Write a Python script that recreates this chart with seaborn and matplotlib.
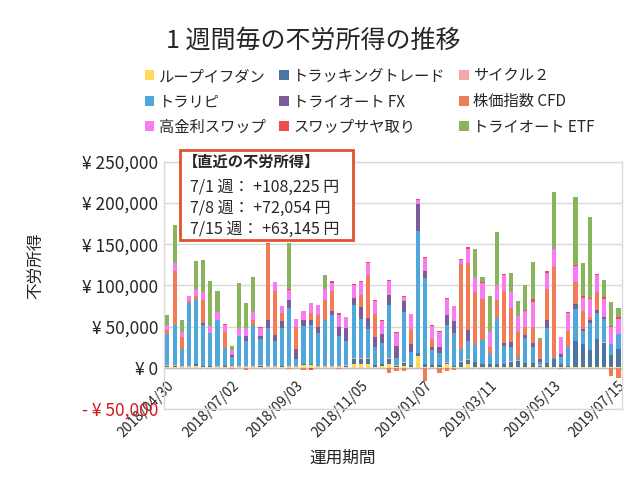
import numpy as np
import pandas as pd
import matplotlib
matplotlib.use("Agg")
import matplotlib.pyplot as plt
import seaborn as sns
from matplotlib.patches import Patch, Rectangle

# weekly categories (Mondays)
weeks = pd.date_range("2018-04-30", "2019-07-15", freq="7D").strftime("%Y/%m/%d").tolist()
tick_labels = ["2018/04/30", "2018/07/02", "2018/09/03", "2018/11/05",
               "2019/01/07", "2019/03/11", "2019/05/13", "2019/07/15"]

# weekly income per strategy (thousand yen)
loop = [1, 1.5, 0.5, 0.5, 2, 1, 1, 0.5, 1, 0.5, 0.5, 0.5, 0.5, 1, 0.5, 0.5,
        1, 0.5, 0.5, 3, 3, 0.5, 0.5, 0.5, 0.5, 1, 5, 5, 4, 1, 2, 5,
        1, 2, 1, 14, 1, 1, 1, 4, 0.5, 0.5, 4, 0.5, 0.5, 0.5, 0.5, 0.5,
        0.5, 0.5, 0.5, 0.5, 0.5, 0.5, 0.5, 0.5, 0.5, 0.5, 0.5, 0.5, 0.5, 0.5, 0.5, 0.5]
tracking = [1.5, 1, 1, 1, 2, 1, 1, 1, 1, 1, 1, 1, 1, 1.5, 1, 1,
            1, 1, 1, 1, 1, 1, 1, 1, 1, 1.5, 6, 6, 7, 2, 2, 6,
            1.5, 4, 2, 4, 3, 2, 2, 2, 1.5, 7, 6, 6, 4, 4, 4, 4,
            7, 8, 5, 5, 2, 5, 10, 4, 1.5, 32, 28, 21, 34, 30, 15, 22]
cycle2 = [1, 0.5, 0.5, 0.5, 1, 0.5, 0.5, 0.5, 0.5, 0.5, 0.5, 0.5, 0.5, 0.5, 0.5, 0.5,
          0.5, 0.5, 0.5, 0.5, 0.5, 0.5, 0.5, 0.5, 0.5, 0.5, 0.5, 0.5, 0.5, 0.5, 0.5, 0.5,
          0.5, 0.5, 0.5, 0.5, 0.5, 0.5, 0.5, 0.5, 0.5, 0.5, 0.5, 0.5, 0.5, 0.5, 0.5, 0.5,
          0.5, 0.5, 0.5, 0.5, 0.5, 0.5, 0.5, 0.5, 0.5, 0.5, 0.5, 0.5, 0.5, 0.5, 0.5, 0.5]
trarip = [38, 49, 21, 76, 78, 50, 40, 56, 21, 11, 36, 30, 50, 32, 46, 30,
          46, 70, 9, 46, 48, 40, 56, 62, 36, 30, 65, 48, 36, 22, 26, 65,
          9, 61, 16, 147, 105, 18, 14, 46, 40, 15, 22, 21, 29, 12, 55, 21,
          17, 4, 30, 19, 4, 42, 2, 8, 23, 38, 16, 32, 32, 28, 13, 18]
triauto_fx = [0, 0, 0, 0, 0, 2, 0, 0, 0, 3, 0, 6, 0, 4, 10, 8,
              8, 10, 12, 7, 5, 8, 0, 5, 12, 15, 8, 14, 13, 12, 10, 12,
              15, 13, 9, 33, 8, 4, 8, 12, 14, 0, 13, 0, 0, 0, 0, 4,
              6, 0, 4, 5, 4, 10, 0, 4, 0, 6, 2, 4, 3, 3, 0, 0]
cfd = [4, 65, 14, 3, 4, 28, 0, 0, 20, -2, 0, -3, 6, 0, 92, 53,
       10, -2, 26, -3, 9, 14, 24, 24, -2, 0, 0, 15, 52, 28, 0, -6,
       -4, -4, 19, 0, -16, 10, -6, -4, -3, 103, 82, 64, 50, 8, 22, 63,
       41, 30, 10, 20, 22, 38, 109, -2, 19, 27, 22, 4, 22, 0, -10, -12]
swap = [6, 10, 7, 6, 8, 10, 8, 10, 9, 6, 10, 10, 10, 9, 0, 11,
        8, 12, 10, 11, 12, 12, 14, 10, 14, 13, 16, 15, 15, 16, 16, 17,
        15, 5, 18, 5, 16, 15, 18, 19, 18, 5, 17, 18, 19, 18, 18, 19,
        20, 20, 19, 30, 0, 19, 22, 20, 22, 19, 16, 21, 20, 22, 20, 18]
saya = [0, 0.5, 0, 0, 0, 0, 0, 0, 1, 0, 0, 0, 0, 1, 1, 0,
        0, 1, 0, 0, -3, 0, 0, 2, 2, 0, 1, 2, 1, 1, 1, 1,
        1, 2, 0, 1, 1, 1, 1, 1, 1, 1, 2, 0, 1, 0, 0, 2,
        0, 0, 1, 4, 0, 2, 0, 0, 1, 2, 2, 2, 2, 2, 2, 2]
triauto_etf = [12, 46, 14, 0, 35, 38, 55, 25, 0, 5, 55, 30, 42, 0, 0, 0,
               0, 57, 0, 0, 0, 0, 17, 0, 0, 0, 0, 0, 0, 0, 0, 0,
               0, 0, 0, 0, 0, 0, 0, 0, 0, 0, 0, 34, 6, 44, 65, 0,
               23, 18, 30, 44, 3, 0, 69, 0, 0, 82, 40, 98, 0, 21, 29, 12]

series = [
    ("ループイフダン", loop, "#FFD95A"),
    ("トラッキングトレード", tracking, "#4C75A3"),
    ("サイクル２", cycle2, "#F4A7A8"),
    ("トラリピ", trarip, "#50A7DC"),
    ("トライオート FX", triauto_fx, "#7B5E99"),
    ("株価指数 CFD", cfd, "#F27C55"),
    ("高金利スワップ", swap, "#F77CF2"),
    ("スワップサヤ取り", saya, "#EE4B4B"),
    ("トライオート ETF", triauto_etf, "#88B45C"),
]

sns.set_theme(style="white")
plt.rcParams["font.family"] = ["Noto Sans CJK JP", "DejaVu Sans"]

fig = plt.figure(figsize=(6.4, 4.8), dpi=100)
ax = fig.add_axes([0.256, 0.148, 0.716, 0.515])

pos_base = np.zeros(len(weeks))
neg_base = np.zeros(len(weeks))
for name, vals, color in series:
    v = np.array(vals, dtype=float) * 1000
    bottom = np.where(v >= 0, pos_base, neg_base)
    sns.barplot(x=weeks, y=v, bottom=bottom, color=color, saturation=1,
                width=0.58, errorbar=None, linewidth=0, ax=ax, zorder=3)
    pos_base = pos_base + np.where(v >= 0, v, 0)
    neg_base = neg_base + np.where(v < 0, v, 0)

ax.set_xlim(-0.5, len(weeks) - 0.5)
ax.set_ylim(-50000, 250000)
ax.set_yticks(np.arange(-50000, 250001, 50000))
ylabels = ["- ¥ 50,000", "¥ 0", "¥ 50,000", "¥ 100,000", "¥ 150,000", "¥ 200,000", "¥ 250,000"]
ax.set_yticklabels(ylabels, fontsize=12.5)
ax.get_yticklabels()[0].set_color("#D11A1A")
ax.yaxis.grid(True, color="#D9D9D9", linewidth=1, zorder=0)
ax.xaxis.grid(False)

# category labels sit just under the zero line, like the source chart
ax.set_xticks([weeks.index(t) for t in tick_labels])
ax.set_xticklabels(tick_labels, rotation=45, ha="right", rotation_mode="anchor", fontsize=10)
ax.tick_params(axis="y", length=0, pad=4)
ax.tick_params(axis="x", length=0, pad=-22)

# category axis at zero with small ticks
ax.axhline(0, color="#BFBFBF", linewidth=1, zorder=2)
ax.vlines(np.arange(len(weeks) + 1) - 0.5, -2000, 0, color="#BFBFBF", linewidth=0.8, zorder=2)

for s in ax.spines.values():
    s.set_color("#D9D9D9")
    s.set_linewidth(1)

ax.set_xlabel("運用期間", fontsize=12)
ax.set_ylabel("不労所得", fontsize=12)
ax.xaxis.set_label_coords(0.39, -0.165)
ax.yaxis.set_label_coords(-0.262, 0.58)

fig.text(0.49, 0.915, "1 週間毎の不労所得の推移", ha="center", va="center", fontsize=18)

handles = [Patch(facecolor=c, edgecolor="none", label=n) for n, _, c in series]
order = [0, 3, 6, 1, 4, 7, 2, 5, 8]
fig.legend([handles[i] for i in order], [series[i][0] for i in order],
           ncol=3, loc="upper center", bbox_to_anchor=(0.578, 0.875), frameon=False,
           fontsize=11, handlelength=0.6, handleheight=0.6, handletextpad=0.3,
           columnspacing=0.9, labelspacing=0.55, borderpad=0)

# annotation box with the latest figures
box = Rectangle((0.281, 0.5), 0.271, 0.1875, transform=fig.transFigure,
                facecolor="white", edgecolor="#E0522A", linewidth=2, zorder=5)
fig.add_artist(box)
fig.text(0.286, 0.6625, "【直近の不労所得】", fontsize=11, fontweight="bold", va="center", zorder=6)
recent = ["7/1 週： +108,225 円", "7/8 週： +72,054 円", "7/15 週： +63,145 円"]
for k, line in enumerate(recent):
    fig.text(0.297, 0.610 - k * 0.0445, line, fontsize=11.5, va="center", zorder=6)

fig.savefig("out.png", dpi=100)
